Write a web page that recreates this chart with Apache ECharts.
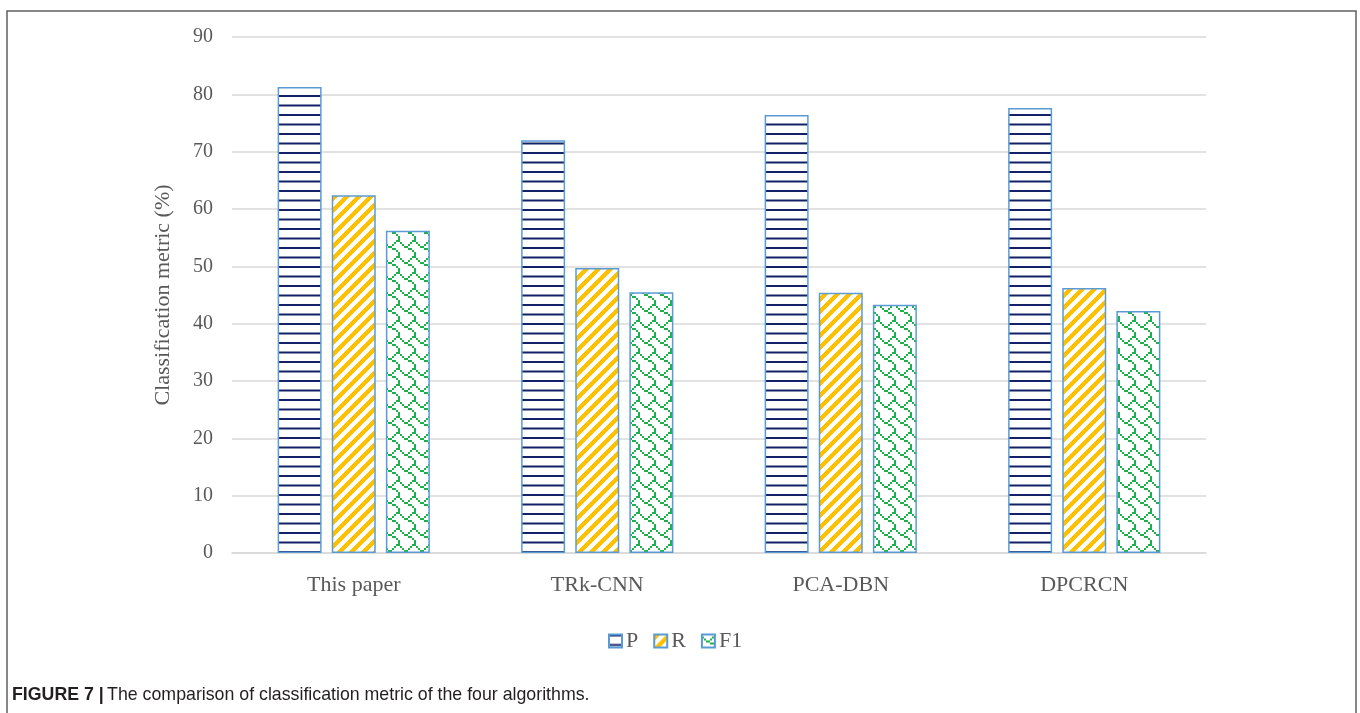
<!DOCTYPE html>
<html>
<head>
<meta charset="utf-8">
<script src="https://cdn.jsdelivr.net/npm/echarts@6/dist/echarts.min.js"></script>
<style>
  html, body { margin: 0; padding: 0; background: #fff; }
  #chart { width: 1360px; height: 713px; }
</style>
</head>
<body>
<div id="chart"></div>
<script>
// Algorithms compared and their metric scores (%)
const categories = ['This paper', 'TRk-CNN', 'PCA-DBN', 'DPCRCN'];
const seriesNames = ['P', 'R', 'F1'];
const precision = [81.3, 72.0, 76.4, 77.6];
const recall = [62.4, 49.7, 45.4, 46.2];
const f1Score = [56.2, 45.5, 43.3, 42.2];
const yTicks = { min: 0, max: 90, interval: 10 };

const SERIF = "'Liberation Serif', 'Times New Roman', serif";
const LABEL_COLOR = '#595959';

// Horizontal navy stripes
function stripePattern() {
  const c = document.createElement('canvas');
  c.width = 10; c.height = 19;
  const g = c.getContext('2d');
  g.fillStyle = '#ffffff'; g.fillRect(0, 0, 10, 19);
  g.fillStyle = '#132266';
  g.fillRect(0, 0, 10, 2);
  g.fillRect(0, 9.5, 10, 2);
  return c;
}

// Wide upward diagonal in amber
function diagonalPattern() {
  const s = 12;
  const c = document.createElement('canvas');
  c.width = s; c.height = s;
  const g = c.getContext('2d');
  g.fillStyle = '#ffffff'; g.fillRect(0, 0, s, s);
  g.fillStyle = '#FFC000';
  for (let y = 0; y < s; y++) {
    for (let x = 0; x < s; x++) {
      const d = ((x + y) % s + s) % s;
      if (d < 6) g.fillRect(x, y, 1, 1);
    }
  }
  return c;
}

// Green shingle pattern built from an 8x8 bitmap scaled up
function shinglePattern() {
  const rows = [
    '......XX',
    'X....X..',
    '.X..X...',
    '..XX....',
    '....XX..',
    '......X.',
    '.......X',
    '.......X'
  ];
  const src = document.createElement('canvas');
  src.width = 8; src.height = 8;
  const sg = src.getContext('2d');
  sg.fillStyle = '#ffffff'; sg.fillRect(0, 0, 8, 8);
  sg.fillStyle = '#1DAF4B';
  rows.forEach((r, y) => { for (let x = 0; x < 8; x++) if (r[x] === 'X') sg.fillRect(x, y, 1, 1); });
  const s = 16;
  const c = document.createElement('canvas');
  c.width = s; c.height = s;
  const g = c.getContext('2d');
  g.imageSmoothingEnabled = false;
  g.drawImage(src, 0, 0, s, s);
  return c;
}

const fills = [
  { image: stripePattern(), repeat: 'repeat' },
  { image: diagonalPattern(), repeat: 'repeat' },
  { image: shinglePattern(), repeat: 'repeat' }
];
const values = [precision, recall, f1Score];

const chart = echarts.init(document.getElementById('chart'), null, { renderer: 'canvas' });

chart.setOption({
  backgroundColor: '#ffffff',
  animation: false,
  grid: { left: 232, right: 154, top: 37, bottom: 160 },
  legend: {
    left: 603,
    top: 625,
    icon: 'rect',
    itemWidth: 13,
    itemHeight: 13,
    itemGap: 15,
    textStyle: { fontFamily: SERIF, fontSize: 22, color: LABEL_COLOR, padding: [0, 0, 0, -1] },
    data: seriesNames
  },
  xAxis: {
    type: 'category',
    data: categories,
    axisLine: { show: true, lineStyle: { color: '#d9d9d9', width: 1.5 } },
    axisTick: { show: false },
    axisLabel: { fontFamily: SERIF, fontSize: 22, color: LABEL_COLOR, margin: 21 }
  },
  yAxis: {
    type: 'value',
    min: yTicks.min,
    max: yTicks.max,
    interval: yTicks.interval,
    name: 'Classification metric (%)',
    nameLocation: 'middle',
    nameGap: 58,
    nameTextStyle: { fontFamily: SERIF, fontSize: 22, color: LABEL_COLOR },
    axisLine: { show: false },
    axisTick: { show: false },
    axisLabel: { fontFamily: SERIF, fontSize: 20, color: LABEL_COLOR, margin: 19 },
    splitLine: { lineStyle: { color: '#d9d9d9', width: 1.5 } }
  },
  series: seriesNames.map((name, i) => ({
    name: name,
    type: 'bar',
    data: values[i],
    barWidth: 44,
    barGap: '23%',
    itemStyle: { color: fills[i], borderColor: '#5B9BD5', borderWidth: 1.5 }
  })),
  graphic: [
    {
      type: 'rect',
      shape: { x: 7, y: 11, width: 1349, height: 730 },
      style: { fill: 'none', stroke: '#5f5f5f', lineWidth: 1.5 },
      silent: true
    },
    {
      type: 'text',
      left: 12,
      top: 686,
      style: {
        text: '{b|FIGURE 7 |} {r|The comparison of classification metric of the four algorithms.}',
        rich: {
          b: { fontFamily: "'Liberation Sans Narrow', 'Liberation Sans', Arial, sans-serif", fontWeight: 'bold', fontSize: 17.75, fill: '#231f20' },
          r: { fontFamily: "'Liberation Sans Narrow', 'Liberation Sans', Arial, sans-serif", fontSize: 17.75, fill: '#231f20' }
        }
      }
    }
  ]
});
</script>
</body>
</html>
